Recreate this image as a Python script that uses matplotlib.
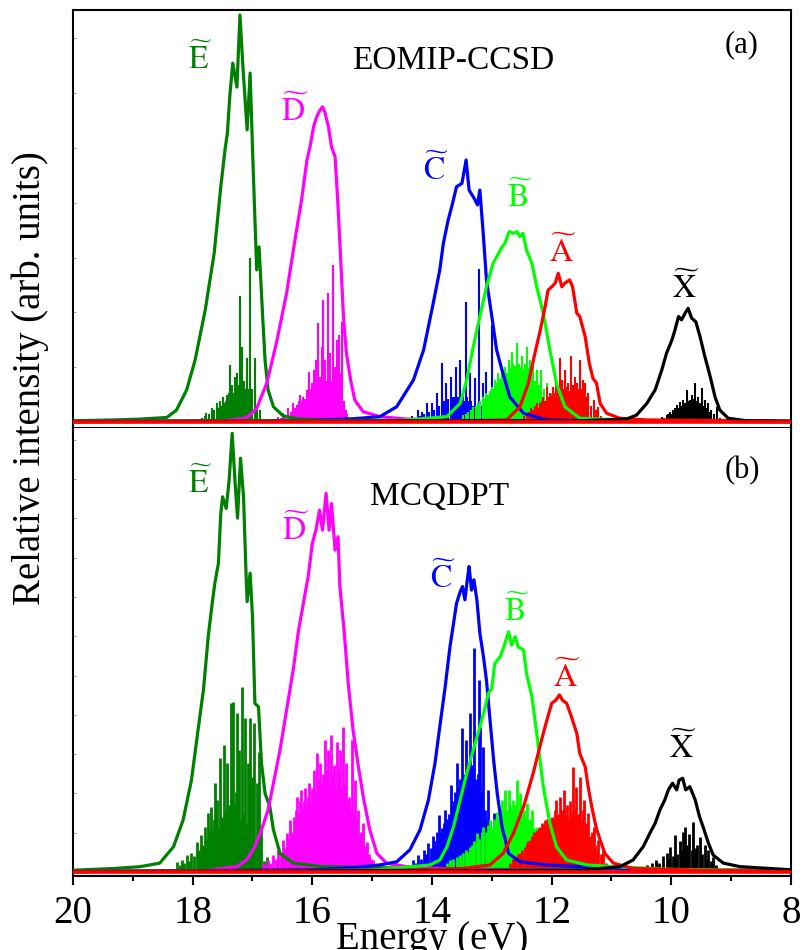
import matplotlib
matplotlib.use("Agg")
import matplotlib.pyplot as plt
from matplotlib.ticker import MultipleLocator
import numpy as np

plt.rcParams["font.family"] = ["Liberation Serif", "DejaVu Serif"]
plt.rcParams["mathtext.fontset"] = "stix"

# ---------------- EOMIP-CCSD (panel a) ----------------
# envelopes: energy (eV) and relative intensity
a_E_env_x = [20.0, 19.3, 18.88, 18.43, 18.27, 18.10, 17.96, 17.79, 17.64, 17.53, 17.46, 17.42, 17.38, 17.33,
             17.26, 17.21, 17.16, 17.09, 17.04, 16.99, 16.93, 16.89, 16.83, 16.79, 16.74, 16.65, 16.49, 16.21,
             15.5, 8.0]
a_E_env_y = [0.3, 0.5, 0.7, 1.1, 2.9, 7.8, 15.0, 27.2, 41.0, 57.1, 66.0, 70.1, 79.0, 87.1,
             81.3, 98.8, 86.2, 70.9, 84.7, 62.0, 36.9, 42.5, 25.6, 15.0, 7.8, 3.7, 1.5, 0.7,
             0.4, 0.1]
a_D_env_x = [20.0, 17.5, 17.1, 16.93, 16.76, 16.60, 16.43, 16.29, 16.18, 16.09, 16.04, 15.98, 15.93, 15.87,
             15.83, 15.79, 15.73, 15.68, 15.62, 15.57, 15.52, 15.48, 15.43, 15.36, 15.29, 15.15, 14.87,
             14.42, 13.5, 8.0]
a_D_env_y = [0.1, 0.3, 1.0, 3.3, 9.5, 19.2, 31.3, 44.2, 53.9, 63.6, 66.7, 71.6, 74.0, 75.7,
             76.5, 75.2, 71.6, 66.8, 64.4, 52.3, 37.7, 25.6, 16.7, 10.2, 5.3, 2.5, 1.3,
             0.7, 0.3, 0.1]
a_C_env_x = [20.0, 16.0, 15.3, 14.87, 14.59, 14.31, 14.14, 13.98, 13.87, 13.81, 13.73, 13.67, 13.59, 13.50,
             13.43, 13.38, 13.28, 13.24, 13.20, 13.14, 13.09, 13.00, 12.92, 12.83, 12.70, 12.47, 12.08,
             11.0, 8.0]
a_C_env_y = [0.1, 0.4, 0.8, 1.3, 3.7, 10.2, 17.5, 28.8, 36.9, 43.4, 49.0, 52.3, 57.1, 57.9,
             63.6, 56.3, 53.9, 52.7, 56.3, 45.0, 34.5, 25.6, 17.5, 12.6, 6.1, 2.1, 0.5,
             0.2, 0.1]
a_B_env_x = [20.0, 14.5, 13.75, 13.53, 13.42, 13.31, 13.20, 13.09, 12.98, 12.89, 12.83, 12.78, 12.71, 12.64,
             12.58, 12.53, 12.48, 12.42, 12.33, 12.25, 12.14, 12.03, 11.92, 11.78, 11.53, 10.5, 8.0]
a_B_env_y = [0.1, 0.4, 1.3, 4.5, 10.2, 18.3, 25.6, 32.8, 38.5, 40.9, 42.5, 43.4, 46.2, 45.8,
             46.2, 45.0, 45.8, 41.7, 38.5, 32.8, 26.4, 17.5, 9.4, 3.7, 0.9, 0.3, 0.1]
a_A_env_x = [20.0, 13.5, 12.75, 12.53, 12.39, 12.28, 12.19, 12.11, 12.06, 12.00, 11.94, 11.89, 11.83, 11.78,
             11.70, 11.65, 11.58, 11.53, 11.44, 11.37, 11.31, 11.25, 11.19, 11.08, 10.86, 10.41, 8.0]
a_A_env_y = [0.1, 0.3, 0.5, 3.7, 9.4, 16.7, 22.3, 28.0, 32.0, 32.8, 33.7, 36.1, 32.8, 33.7,
             34.5, 32.8, 26.4, 25.6, 20.7, 14.2, 10.6, 9.4, 4.5, 2.1, 0.9, 0.5, 0.2]
a_X_env_x = [20.0, 11.5, 10.75, 10.58, 10.41, 10.27, 10.16, 10.08, 9.99, 9.94, 9.88, 9.83, 9.77, 9.72,
             9.66, 9.59, 9.52, 9.44, 9.35, 9.27, 9.19, 9.05, 8.74, 8.0]
a_X_env_y = [0.1, 0.3, 0.7, 1.7, 4.5, 7.8, 12.6, 16.7, 19.9, 22.3, 25.6, 24.8, 26.4, 27.6,
             25.2, 24.3, 20.7, 15.9, 11.0, 6.1, 2.9, 0.9, 0.3, 0.2]

# stick spectra: line positions (eV) and intensities
a_E_stk_x = [17.91, 17.85, 17.80, 17.77, 17.72, 17.68, 17.64, 17.60, 17.57, 17.54, 17.51, 17.49, 17.46,
             17.44, 17.42, 17.40, 17.38, 17.36, 17.34, 17.32, 17.30, 17.28, 17.26, 17.24, 17.21, 17.19,
             17.17, 17.14, 17.12, 17.10, 17.08, 17.06, 17.04, 17.02, 17.00, 16.96, 16.92, 16.87]
a_E_stk_y = [0.7, 1.0, 1.5, 2.2, 2.0, 3.4, 2.8, 4.6, 3.5, 5.0, 4.0, 6.0, 4.5,
             5.0, 6.5, 7.0, 13.8, 6.0, 9.0, 7.0, 11.0, 8.0, 11.9, 9.0, 30.6, 12.0,
             18.2, 10.0, 8.0, 15.5, 6.0, 8.0, 39.8, 6.0, 8.0, 15.5, 4.0, 3.0]
a_D_stk_x = [16.57, 16.53, 16.49, 16.45, 16.40, 16.36, 16.32, 16.29, 16.26, 16.23, 16.21, 16.18, 16.15,
             16.12, 16.09, 16.06, 16.03, 16.01, 15.98, 15.96, 15.94, 15.92, 15.90, 15.87, 15.84, 15.83,
             15.81, 15.79, 15.77, 15.74, 15.72, 15.70, 15.68, 15.66, 15.64, 15.62, 15.59, 15.57, 15.55,
             15.54, 15.52, 15.50, 15.47, 15.44, 15.42]
a_D_stk_y = [1.2, 1.0, 2.2, 1.8, 3.4, 2.5, 4.6, 3.5, 4.1, 5.0, 6.6, 5.0, 6.1,
             5.5, 7.8, 12.1, 8.0, 9.5, 12.6, 9.0, 15.0, 10.0, 24.0, 11.0, 18.2, 29.6,
             12.0, 15.0, 10.0, 31.3, 12.0, 16.7, 10.0, 38.1, 11.0, 13.3, 19.9, 9.0, 21.1,
             11.9, 8.0, 24.3, 5.0, 3.0, 2.0]
a_C_stk_x = [14.34, 14.28, 14.24, 14.20, 14.17, 14.13, 14.09, 14.05, 14.00, 13.96, 13.92, 13.88, 13.84,
             13.80, 13.76, 13.73, 13.69, 13.66, 13.63, 13.60, 13.57, 13.53, 13.50, 13.48, 13.46, 13.44,
             13.41, 13.39, 13.37, 13.34, 13.31, 13.28, 13.25, 13.21, 13.18, 13.14, 13.11, 13.09, 13.05,
             12.99, 12.95, 12.92, 12.87, 12.83, 12.78, 12.72]
a_C_stk_y = [1.5, 1.0, 2.9, 1.5, 2.5, 2.0, 4.5, 2.5, 4.5, 3.0, 7.0, 4.0, 14.2,
             5.0, 9.4, 5.5, 11.0, 6.0, 6.1, 13.4, 6.0, 15.0, 6.0, 7.0, 5.0, 29.2,
             6.0, 5.0, 11.8, 5.0, 4.0, 10.6, 4.0, 37.1, 4.0, 9.4, 3.0, 12.2, 3.0,
             23.5, 2.5, 7.8, 2.0, 6.1, 1.5, 1.0]
a_B_stk_x = [13.48, 13.44, 13.39, 13.35, 13.31, 13.27, 13.23, 13.19, 13.14, 13.11, 13.09, 13.06, 13.03,
             13.00, 12.97, 12.95, 12.92, 12.89, 12.86, 12.83, 12.80, 12.78, 12.75, 12.72, 12.70, 12.67,
             12.64, 12.61, 12.58, 12.55, 12.53, 12.50, 12.47, 12.45, 12.42, 12.39, 12.36, 12.33, 12.31,
             12.28, 12.25, 12.22, 12.17, 12.13, 12.08, 12.04, 12.00, 11.96, 11.92, 11.87, 11.82]
a_B_stk_y = [1.7, 2.0, 2.5, 3.0, 3.7, 4.0, 4.5, 5.0, 6.1, 5.5, 7.0, 6.5, 7.5,
             8.6, 8.0, 10.2, 9.5, 11.8, 10.5, 12.6, 11.0, 13.4, 12.0, 15.0, 13.0, 17.1,
             14.0, 13.5, 19.1, 14.0, 13.0, 15.9, 12.5, 14.0, 18.3, 13.0, 15.0, 11.5, 14.2,
             10.0, 12.6, 9.0, 12.6, 8.0, 9.4, 6.0, 7.0, 4.0, 5.3, 2.5, 1.5]
a_A_stk_x = [12.47, 12.42, 12.38, 12.34, 12.31, 12.28, 12.25, 12.22, 12.19, 12.16, 12.14, 12.11, 12.08,
             12.05, 12.03, 12.00, 11.97, 11.94, 11.92, 11.89, 11.86, 11.83, 11.80, 11.78, 11.75, 11.72,
             11.70, 11.68, 11.65, 11.61, 11.58, 11.55, 11.53, 11.50, 11.48, 11.46, 11.44, 11.41, 11.39,
             11.35, 11.30, 11.26, 11.22, 11.17]
a_A_stk_y = [1.5, 2.1, 2.5, 3.5, 2.9, 4.0, 4.5, 3.5, 4.5, 5.0, 6.1, 5.0, 8.6,
             6.0, 7.0, 6.5, 8.6, 7.0, 9.4, 8.0, 15.5, 10.2, 8.0, 12.6, 8.5, 9.4,
             7.5, 15.9, 9.0, 11.0, 9.4, 8.0, 15.0, 8.0, 10.2, 7.0, 9.4, 6.0, 7.0,
             4.0, 5.3, 3.0, 3.7, 1.5]
a_X_stk_x = [10.16, 10.12, 10.08, 10.05, 10.02, 9.99, 9.97, 9.94, 9.91, 9.88, 9.85, 9.82, 9.80,
             9.77, 9.74, 9.71, 9.69, 9.66, 9.63, 9.60, 9.57, 9.55, 9.52, 9.49, 9.46, 9.44,
             9.41, 9.38, 9.35, 9.33, 9.28, 9.24, 9.18]
a_X_stk_y = [1.3, 1.0, 1.7, 2.0, 2.5, 2.0, 2.9, 3.5, 4.1, 3.5, 4.9, 4.0, 5.3,
             4.5, 7.8, 5.0, 5.3, 6.6, 5.5, 9.4, 5.0, 6.1, 4.5, 8.2, 4.0, 5.3,
             3.5, 4.5, 2.5, 2.9, 2.0, 3.7, 1.0]

# ---------------- MCQDPT (panel b) ----------------
b_E_env_x = [20.0, 19.3, 18.88, 18.55, 18.32, 18.16, 18.02, 17.91, 17.82, 17.74, 17.68, 17.63, 17.57, 17.53,
             17.50, 17.44, 17.39, 17.34, 17.29, 17.25, 17.20, 17.15, 17.11, 17.09, 17.04, 17.00, 16.96,
             16.90, 16.85, 16.79, 16.71, 16.65, 16.54, 16.32, 15.82, 14.98, 13.0, 8.0]
b_E_env_y = [0.4, 0.8, 1.2, 2.0, 5.7, 11.7, 20.7, 32.0, 41.0, 53.0, 59.8, 65.0, 69.5, 80.8,
             84.5, 81.9, 88.3, 98.8, 87.5, 79.7, 93.2, 84.5, 68.0, 60.9, 67.3, 57.5, 38.0,
             37.2, 24.5, 17.7, 14.7, 9.5, 4.2, 2.0, 1.2, 1.0, 0.6, 0.3]
b_D_env_x = [20.0, 17.8, 17.26, 17.10, 16.96, 16.85, 16.74, 16.65, 16.54, 16.43, 16.32, 16.23, 16.15, 16.07,
             16.00, 15.94, 15.88, 15.83, 15.77, 15.72, 15.68, 15.62, 15.57, 15.54, 15.47, 15.40, 15.32,
             15.23, 15.15, 15.04, 14.92, 14.76, 14.42, 13.5, 8.0]
b_D_env_y = [0.1, 0.3, 1.2, 2.7, 5.7, 9.5, 14.0, 20.0, 27.5, 36.5, 45.5, 54.5, 60.5, 66.5,
             74.0, 77.0, 81.5, 77.0, 85.3, 77.0, 83.0, 72.5, 75.5, 64.3, 54.5, 42.5, 32.0,
             23.7, 17.0, 9.5, 4.2, 2.0, 1.2, 0.5, 0.2]
b_C_env_x = [20.0, 16.0, 15.3, 14.87, 14.59, 14.37, 14.20, 14.06, 13.95, 13.87, 13.78, 13.70, 13.64, 13.59,
             13.53, 13.49, 13.45, 13.41, 13.38, 13.34, 13.30, 13.25, 13.20, 13.14, 13.09, 13.03, 12.97,
             12.91, 12.83, 12.72, 12.53, 12.08, 11.53, 10.5, 8.0]
b_C_env_y = [0.1, 0.5, 1.0, 1.6, 2.3, 5.0, 9.5, 16.2, 24.5, 32.7, 41.7, 50.7, 56.0, 60.5,
             63.1, 64.3, 61.3, 65.8, 68.8, 63.5, 65.8, 61.3, 53.8, 48.5, 43.2, 34.2, 25.2,
             17.7, 10.2, 4.2, 2.3, 1.6, 1.2, 0.6, 0.3]
b_B_env_x = [20.0, 15.0, 14.03, 13.87, 13.75, 13.64, 13.53, 13.42, 13.31, 13.20, 13.11, 13.06, 13.00, 12.95,
             12.86, 12.80, 12.72, 12.67, 12.61, 12.56, 12.47, 12.42, 12.33, 12.25, 12.14, 12.03, 11.92,
             11.75, 11.41, 10.97, 10.0, 8.0]
b_B_env_y = [0.1, 0.4, 1.6, 2.7, 5.7, 10.2, 16.2, 22.2, 27.5, 32.7, 37.2, 40.2, 41.4, 47.0,
             48.5, 50.7, 54.1, 51.1, 53.0, 50.7, 50.0, 44.7, 39.5, 31.2, 19.2, 11.0, 5.7,
             2.7, 1.6, 1.2, 0.6, 0.3]
b_A_env_x = [20.0, 14.5, 13.48, 13.03, 12.81, 12.64, 12.47, 12.31, 12.17, 12.08, 12.00, 11.93, 11.87, 11.82,
             11.75, 11.67, 11.58, 11.53, 11.44, 11.39, 11.33, 11.26, 11.19, 11.11, 10.97, 10.64, 9.5, 8.0]
b_A_env_y = [0.1, 0.4, 0.8, 1.6, 4.2, 8.7, 14.7, 22.2, 29.7, 34.2, 38.0, 38.7, 39.9, 38.7,
             38.0, 35.0, 31.2, 26.7, 23.7, 19.2, 14.7, 10.2, 7.2, 4.2, 2.0, 0.8, 0.4, 0.2]
b_X_env_x = [20.0, 11.5, 10.86, 10.64, 10.47, 10.36, 10.27, 10.19, 10.11, 10.05, 9.98, 9.91, 9.87, 9.81,
             9.76, 9.69, 9.60, 9.53, 9.47, 9.38, 9.30, 9.13, 8.85, 8.0]
b_X_env_y = [0.1, 0.4, 1.2, 2.7, 5.7, 8.7, 11.0, 14.0, 16.2, 18.5, 20.0, 18.5, 20.7, 21.1,
             18.5, 19.2, 16.2, 12.5, 10.2, 6.5, 3.8, 2.0, 1.2, 0.5]

b_E_stk_x = [18.27, 18.22, 18.18, 18.14, 18.10, 18.06, 18.02, 17.98, 17.93, 17.90, 17.86, 17.82, 17.79,
             17.77, 17.75, 17.72, 17.70, 17.67, 17.65, 17.63, 17.61, 17.59, 17.56, 17.54, 17.51, 17.48,
             17.46, 17.44, 17.42, 17.40, 17.36, 17.34, 17.32, 17.30, 17.28, 17.26, 17.24, 17.22, 17.20,
             17.18, 17.16, 17.14, 17.12, 17.10, 17.08, 17.06, 17.04, 17.01, 16.99, 16.97, 16.95, 16.93,
             16.91, 16.89, 16.87, 16.85, 16.80, 16.76]
b_E_stk_y = [2.3, 1.5, 2.7, 2.0, 3.8, 2.5, 4.2, 3.5, 6.8, 5.0, 8.3, 6.0, 10.2,
             7.5, 13.2, 9.0, 14.7, 9.5, 12.0, 20.0, 11.0, 16.2, 10.0, 25.6, 12.5, 28.6,
             14.0, 12.5, 24.5, 15.0, 38.0, 16.0, 38.4, 15.0, 18.0, 35.7, 14.0, 27.5, 12.0,
             41.7, 13.0, 10.0, 34.6, 11.0, 24.5, 9.0, 34.6, 21.5, 8.0, 33.5, 6.0, 20.0,
             5.0, 27.1, 4.0, 9.5, 2.5, 3.4]
b_D_stk_x = [16.82, 16.78, 16.74, 16.70, 16.65, 16.61, 16.57, 16.53, 16.49, 16.46, 16.43, 16.40, 16.37,
             16.34, 16.31, 16.28, 16.26, 16.23, 16.21, 16.19, 16.16, 16.14, 16.12, 16.09, 16.07, 16.05,
             16.02, 16.00, 15.98, 15.96, 15.93, 15.91, 15.89, 15.87, 15.85, 15.83, 15.81, 15.79, 15.77,
             15.75, 15.73, 15.71, 15.68, 15.66, 15.64, 15.62, 15.59, 15.57, 15.55, 15.54, 15.51, 15.49,
             15.47, 15.45, 15.43, 15.41, 15.38, 15.36, 15.34, 15.32, 15.29, 15.27, 15.25, 15.23, 15.20,
             15.18, 15.16, 15.13, 15.11, 15.09, 15.05, 15.02, 14.98]
b_D_stk_y = [2.0, 1.5, 2.7, 2.0, 3.8, 3.0, 5.0, 4.0, 7.2, 5.5, 8.7, 7.0, 11.7,
             9.0, 12.5, 14.0, 17.0, 13.0, 16.0, 18.5, 14.0, 16.0, 18.9, 15.0, 17.0, 20.0,
             16.0, 19.0, 23.0, 18.0, 26.7, 19.0, 21.0, 24.5, 20.0, 22.0, 19.0, 29.7, 21.0,
             23.0, 27.5, 20.0, 30.9, 22.0, 24.0, 19.0, 29.3, 21.0, 23.0, 27.5, 19.0, 32.7,
             18.0, 20.0, 24.5, 16.0, 17.0, 14.0, 29.7, 13.0, 20.7, 10.0, 12.0, 14.0, 8.0,
             9.0, 11.0, 6.0, 5.5, 6.8, 4.0, 3.0, 2.7]
b_C_stk_x = [14.31, 14.27, 14.23, 14.19, 14.14, 14.10, 14.06, 14.02, 13.98, 13.95, 13.92, 13.89, 13.86,
             13.83, 13.80, 13.78, 13.75, 13.72, 13.69, 13.67, 13.65, 13.63, 13.61, 13.59, 13.57, 13.55,
             13.53, 13.50, 13.48, 13.46, 13.43, 13.41, 13.39, 13.37, 13.35, 13.33, 13.31, 13.29, 13.27,
             13.25, 13.23, 13.21, 13.20, 13.18, 13.16, 13.14, 13.12, 13.10, 13.07, 13.05, 13.03, 13.00,
             12.97, 12.95, 12.92, 12.89, 12.85, 12.80]
b_C_stk_y = [2.7, 2.0, 3.8, 3.0, 5.0, 4.0, 6.5, 5.5, 8.0, 7.0, 9.0, 12.8, 9.0,
             10.0, 11.0, 14.0, 12.0, 13.0, 19.6, 14.0, 16.0, 15.0, 18.0, 24.5, 17.0, 19.0,
             21.0, 32.4, 20.0, 22.0, 29.7, 21.0, 23.0, 35.7, 22.0, 24.0, 20.0, 50.4, 21.0,
             19.0, 22.0, 43.2, 32.7, 18.0, 16.0, 28.2, 14.0, 12.0, 18.5, 10.0, 11.0, 9.0,
             13.2, 7.0, 8.7, 5.0, 5.7, 2.0]
b_B_stk_x = [13.75, 13.70, 13.65, 13.59, 13.54, 13.48, 13.44, 13.40, 13.37, 13.33, 13.29, 13.25, 13.21,
             13.17, 13.14, 13.10, 13.06, 13.03, 13.00, 12.97, 12.94, 12.92, 12.89, 12.86, 12.83, 12.80,
             12.78, 12.75, 12.72, 12.70, 12.67, 12.64, 12.61, 12.58, 12.56, 12.53, 12.50, 12.47, 12.44,
             12.42, 12.39, 12.36, 12.33, 12.30, 12.28, 12.25, 12.21, 12.17, 12.13, 12.09, 12.04]
b_B_stk_y = [2.0, 2.7, 3.0, 3.4, 3.8, 4.2, 5.0, 4.5, 5.7, 6.0, 7.0, 8.7, 7.5,
             9.0, 10.2, 9.0, 10.5, 11.7, 10.0, 12.0, 11.0, 13.6, 12.0, 14.5, 16.2, 13.0,
             18.5, 14.0, 18.5, 15.0, 14.0, 16.2, 15.0, 20.7, 14.0, 17.7, 13.0, 14.0, 12.0,
             15.5, 11.0, 12.0, 14.0, 10.0, 9.0, 10.2, 8.0, 7.2, 5.0, 4.0, 2.5]
b_A_stk_x = [12.70, 12.65, 12.61, 12.57, 12.53, 12.49, 12.45, 12.42, 12.39, 12.36, 12.33, 12.30, 12.28,
             12.25, 12.22, 12.19, 12.16, 12.13, 12.11, 12.08, 12.05, 12.03, 12.00, 11.97, 11.94, 11.92,
             11.89, 11.86, 11.83, 11.80, 11.78, 11.75, 11.72, 11.70, 11.67, 11.65, 11.62, 11.59, 11.56,
             11.53, 11.50, 11.48, 11.46, 11.43, 11.41, 11.39, 11.36, 11.33, 11.30, 11.27, 11.25, 11.22,
             11.18, 11.15, 11.10]
b_A_stk_y = [2.0, 3.0, 3.4, 4.0, 4.2, 5.0, 5.7, 6.5, 7.0, 7.2, 8.0, 9.0, 8.7,
             9.5, 10.0, 10.2, 11.0, 10.5, 11.7, 12.0, 11.0, 12.0, 12.5, 12.0, 14.0, 16.2,
             13.0, 17.0, 14.0, 18.5, 13.0, 15.0, 12.0, 16.0, 13.0, 23.7, 14.0, 19.2, 13.0,
             21.5, 12.0, 14.0, 16.2, 11.0, 10.0, 13.2, 8.0, 9.0, 10.2, 6.0, 5.0, 7.2,
             4.0, 5.0, 2.0]
b_X_stk_x = [10.41, 10.33, 10.26, 10.20, 10.14, 10.08, 10.05, 10.02, 9.98, 9.94, 9.90, 9.86, 9.83,
             9.80, 9.77, 9.73, 9.70, 9.66, 9.63, 9.60, 9.57, 9.52, 9.49, 9.44, 9.41, 9.38,
             9.34, 9.30, 9.25]
b_X_stk_y = [1.6, 2.0, 2.7, 2.0, 3.5, 4.2, 3.0, 5.7, 3.5, 8.3, 4.0, 7.0, 5.0,
             9.0, 10.2, 6.0, 8.5, 5.0, 11.3, 5.5, 6.0, 7.9, 4.0, 6.1, 3.0, 5.0,
             2.5, 3.4, 1.5]

state_colors = {"X": "#000000", "A": "#ff0000", "B": "#00ff00",
                "C": "#0000ff", "D": "#ff00ff", "E": "#008000"}

panel_a = {
    "E": (a_E_env_x, a_E_env_y, a_E_stk_x, a_E_stk_y),
    "D": (a_D_env_x, a_D_env_y, a_D_stk_x, a_D_stk_y),
    "C": (a_C_env_x, a_C_env_y, a_C_stk_x, a_C_stk_y),
    "B": (a_B_env_x, a_B_env_y, a_B_stk_x, a_B_stk_y),
    "A": (a_A_env_x, a_A_env_y, a_A_stk_x, a_A_stk_y),
    "X": (a_X_env_x, a_X_env_y, a_X_stk_x, a_X_stk_y),
}
panel_b = {
    "E": (b_E_env_x, b_E_env_y, b_E_stk_x, b_E_stk_y),
    "D": (b_D_env_x, b_D_env_y, b_D_stk_x, b_D_stk_y),
    "C": (b_C_env_x, b_C_env_y, b_C_stk_x, b_C_stk_y),
    "B": (b_B_env_x, b_B_env_y, b_B_stk_x, b_B_stk_y),
    "A": (b_A_env_x, b_A_env_y, b_A_stk_x, b_A_stk_y),
    "X": (b_X_env_x, b_X_env_y, b_X_stk_x, b_X_stk_y),
}

# label anchor positions (energy, intensity) for the state names
label_pos_a = {"E": (17.88, 88.0), "D": (16.29, 75.5), "C": (13.93, 61.2),
               "B": (12.53, 54.6), "A": (11.81, 41.3), "X": (9.75, 32.5)}
label_pos_b = {"E": (17.88, 87.6), "D": (16.27, 77.0), "C": (13.82, 66.2),
               "B": (12.58, 58.6), "A": (11.74, 43.9), "X": (9.80, 27.9)}

fig = plt.figure(figsize=(8.0, 9.5), dpi=100)
ax_a = fig.add_axes([0.09125, 0.54947, 0.8975, 0.44])
ax_b = fig.add_axes([0.09125, 0.07789, 0.8975, 0.47158])


def draw_panel(ax, data, labels, title, tag, title_xy, tag_xy, stick_lw, ymin, ytick_step):
    for s in ["E", "D", "C", "B", "X", "A"]:
        _, _, sx, sy = data[s]
        ax.vlines(sx, 0, sy, colors=state_colors[s], lw=stick_lw, zorder=2)
    for s in ["E", "D", "C", "B", "A", "X"]:
        ex, ey, _, _ = data[s]
        ax.plot(ex, ey, color=state_colors[s], lw=2.3, zorder=3, solid_joinstyle="round")
    ax.axhline(0, color=state_colors["A"], lw=2.6, zorder=4)
    for s, (lx, ly) in labels.items():
        ax.text(lx, ly, r"$\widetilde{\mathrm{%s}}$" % s, color=state_colors[s],
                fontsize=23, ha="center", va="center", zorder=5)
    ax.text(*title_xy, title, fontsize=24, ha="center", va="center")
    ax.text(*tag_xy, tag, fontsize=22, ha="center", va="center")

    ax.set_xlim(20, 8)
    ax.set_ylim(ymin, 100)
    ax.xaxis.set_major_locator(MultipleLocator(2))
    ax.xaxis.set_minor_locator(MultipleLocator(1))
    ax.yaxis.set_major_locator(MultipleLocator(ytick_step))
    ax.tick_params(axis="x", which="major", direction="out", length=6.5, width=1.5,
                   top=False, bottom=True)
    ax.tick_params(axis="x", which="minor", direction="out", length=3.5, width=1.5,
                   top=False, bottom=True)
    ax.tick_params(axis="y", which="both", direction="in", length=2.5, width=0.6,
                   colors="#888888", left=True, right=False, labelleft=False)
    for sp in ax.spines.values():
        sp.set_linewidth(1.5)


draw_panel(ax_a, panel_a, label_pos_a, "EOMIP-CCSD", "(a)", (13.65, 87.6), (8.82, 91.5),
           1.5, -1.46, 13.3)
draw_panel(ax_b, panel_b, label_pos_b, "MCQDPT", "(b)", (13.87, 84.5), (8.82, 90.5),
           2.0, -0.9, 8.85)

ax_a.tick_params(axis="x", labelbottom=False)
ax_b.spines["top"].set_visible(False)
ax_b.tick_params(axis="x", labelsize=28, pad=7)
ax_b.set_xticks([20, 18, 16, 14, 12, 10, 8])
ax_b.set_xticklabels(["20", "18", "16", "14", "12", "10", "8"])

fig.text(432 / 800, 1 - 939 / 950, "Energy (eV)", fontsize=28, ha="center", va="center")
fig.text(30 / 800, 1 - 378 / 950, "Relative intensity (arb. units)", fontsize=28,
         ha="center", va="center", rotation=90)

fig.savefig("out.png", dpi=100)
